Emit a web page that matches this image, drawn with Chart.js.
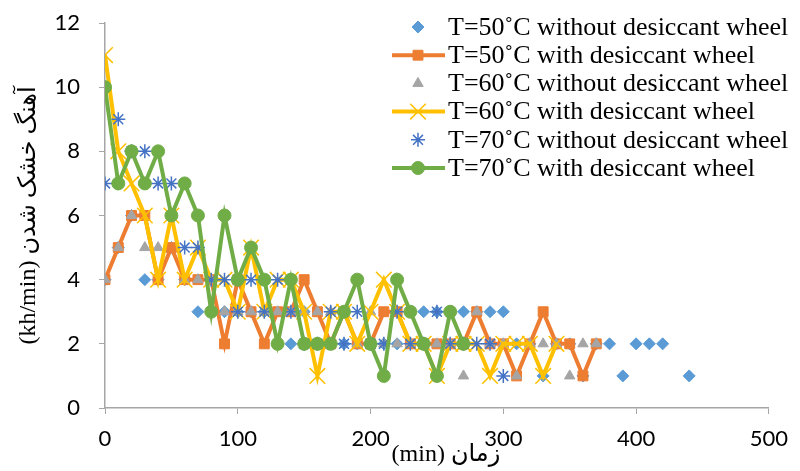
<!DOCTYPE html>
<html>
<head>
<meta charset="utf-8">
<script src="https://cdn.jsdelivr.net/npm/chart.js@4.4.1/dist/chart.umd.min.js"></script>
<style>
    html, body { margin: 0; padding: 0; background: #fff; }
    #wrap { width: 800px; height: 471px; position: relative; }
</style>
</head>
<body>
<div id="wrap"><canvas id="dryingChart"></canvas></div>
<script>
// time axis (min), one reading every 10 minutes
const times = [0, 10, 20, 30, 40, 50, 60, 70, 80, 90, 100, 110, 120, 130, 140, 150, 160, 170, 180, 190,
    200, 210, 220, 230, 240, 250, 260, 270, 280, 290, 300, 310, 320, 330, 340, 350, 360, 370, 380, 390,
    400, 410, 420, 430, 440];

// drying rate (kh/min) per series, aligned with times (null = no reading)
const t50NoWheel = [4, 5, 6, 4, 4, 5, 4, 3, 3, 3, 3, 3, 3, 2, 2, 3, 2, 2, 2, 2,
    2, 2, 2, 3, 3, 3, 3, 3, 3, 3, 3, 2, 2, 1, 2, 2, 1, 2, 2, 1,
    2, 2, 2, null, 1];
const t50Wheel = [4, 5, 6, 6, 4, 5, 4, 4, 4, 2, 4, 3, 2, 3, 3, 4, 3, 2, 3, 2,
    2, 3, 3, 2, 2, 2, 2, 2, 3, 2, 2, 1, 2, 3, 2, 2, 1, 2];
const t60NoWheel = [4, 5, 6, 5, 5, 6, 4, 4, 4, 3, 3, 3, 3, 3, 3, 3, 3, 3, 3, 2,
    3, 2, 2, 2, 2, 2, 2, 1, 3, 2, 2, 1, 2, 2, 2, 1, 2, 2];
const t60Wheel = [11, 8, 7, 6, 4, 6, 4, 5, 4, 4, 3, 5, 3, 4, 4, 3, 1, 3, 3, 2,
    3, 4, 3, 2, 2, 1, 2, 2, 2, 1, 2, 2, 2, 1, 2];
const t70NoWheel = [7, 9, 8, 8, 7, 7, 5, 5, 4, 4, 3, 4, 3, 4, 3, 2, 2, 3, 2, 3,
    2, 2, 3, 2, 2, 3, 2, 2, 2, 2, 1];
const t70Wheel = [10, 7, 8, 7, 8, 6, 7, 6, 3, 6, 4, 5, 4, 2, 4, 2, 2, 2, 3, 4,
    2, 1, 4, 3, 2, 1, 3, 2];

const seriesLabels = [
    'T=50˚C without desiccant wheel',
    'T=50˚C with desiccant wheel',
    'T=60˚C without desiccant wheel',
    'T=60˚C with desiccant wheel',
    'T=70˚C without desiccant wheel',
    'T=70˚C with desiccant wheel'
];

const xTicks = [0, 100, 200, 300, 400, 500];
const yTicks = [0, 2, 4, 6, 8, 10, 12];

const yTitle = '(kh/min) آهنگ خشک شدن';
const xTitle = '\u00A0\u00A0\u00A0(min) زمان';

function toPoints(values) {
    return values.map((v, i) => ({ x: times[i], y: v }));
}

// draws the legend inside the plot, top right, like the original
const cornerLegend = {
    id: 'cornerLegend',
    afterDraw(chart) {
        const ctx = chart.ctx;
        ctx.save();
        chart.data.datasets.forEach((ds, i) => {
            const y = 27 + i * 28.2;
            if (ds.showLine) {
                ctx.strokeStyle = ds.borderColor;
                ctx.lineWidth = ds.borderWidth;
                ctx.beginPath();
                ctx.moveTo(392, y);
                ctx.lineTo(445, y);
                ctx.stroke();
            }
            ctx.fillStyle = ds.pointBackgroundColor;
            ctx.strokeStyle = ds.pointBorderColor;
            ctx.lineWidth = ds.pointBorderWidth;
            Chart.helpers.drawPoint(ctx, {
                pointStyle: ds.pointStyle,
                radius: ds.pointRadius,
                borderWidth: ds.pointBorderWidth,
                rotation: 0
            }, 418, y);
            ctx.fillStyle = '#000';
            ctx.font = '26px "Liberation Serif", "Times New Roman", serif';
            ctx.textBaseline = 'middle';
            ctx.textAlign = 'left';
            ctx.fillText(ds.label, 448, y + 1);
        });
        ctx.restore();
    }
};

function initChart() {
    const ctx = document.getElementById('dryingChart').getContext('2d');
    const axisColor = '#A6A6A6';
    const tickFont = { family: 'Lato, "Open Sans", sans-serif', size: 22 };
    const titleFont = { family: '"Liberation Serif", "DejaVu Sans", serif', size: 24 };

    const base = { spanGaps: false, pointHoverRadius: 0 };

    new Chart(ctx, {
        type: 'line',
        data: {
            datasets: [
                { ...base, label: seriesLabels[0], data: toPoints(t50NoWheel), showLine: false, order: 6,
                  borderColor: '#5B9BD5', pointStyle: 'rectRot', pointRadius: 6,
                  pointBackgroundColor: '#5B9BD5', pointBorderColor: '#5B9BD5', pointBorderWidth: 1 },
                { ...base, label: seriesLabels[1], data: toPoints(t50Wheel), showLine: true, order: 5,
                  borderColor: '#ED7D31', borderWidth: 4, pointStyle: 'rect', pointRadius: 7,
                  pointBackgroundColor: '#ED7D31', pointBorderColor: '#ED7D31', pointBorderWidth: 1 },
                { ...base, label: seriesLabels[2], data: toPoints(t60NoWheel), showLine: false, order: 4,
                  borderColor: '#A5A5A5', pointStyle: 'triangle', pointRadius: 6,
                  pointBackgroundColor: '#A5A5A5', pointBorderColor: '#A5A5A5', pointBorderWidth: 1 },
                { ...base, label: seriesLabels[3], data: toPoints(t60Wheel), showLine: true, order: 3,
                  borderColor: '#FFC000', borderWidth: 4, pointStyle: 'crossRot', pointRadius: 11,
                  pointBackgroundColor: '#FFC000', pointBorderColor: '#FFC000', pointBorderWidth: 1.5 },
                { ...base, label: seriesLabels[4], data: toPoints(t70NoWheel), showLine: false, order: 2,
                  borderColor: '#4472C4', pointStyle: 'star', pointRadius: 7,
                  pointBackgroundColor: '#4472C4', pointBorderColor: '#4472C4', pointBorderWidth: 1.5 },
                { ...base, label: seriesLabels[5], data: toPoints(t70Wheel), showLine: true, order: 1,
                  borderColor: '#70AD47', borderWidth: 4, pointStyle: 'circle', pointRadius: 6.5,
                  pointBackgroundColor: '#70AD47', pointBorderColor: '#70AD47', pointBorderWidth: 1 }
            ]
        },
        options: {
            responsive: true,
            maintainAspectRatio: false,
            animation: false,
            layout: { padding: { top: 23, right: 25, left: 5, bottom: 0 } },
            plugins: { legend: { display: false }, tooltip: { enabled: false } },
            scales: {
                x: {
                    type: 'linear',
                    min: xTicks[0],
                    max: xTicks[xTicks.length - 1],
                    afterFit: s => { s.height = 63; },
                    afterBuildTicks: s => { s.ticks = xTicks.map(v => ({ value: v })); },
                    grid: { display: true, drawOnChartArea: false, drawTicks: true, tickLength: 6, color: axisColor },
                    border: { display: true, color: axisColor, width: 1.5 },
                    ticks: { color: '#000', font: tickFont, padding: 12, maxRotation: 0 },
                    title: { display: true, text: xTitle, color: '#000', font: titleFont, padding: { top: 0, bottom: 2 } }
                },
                y: {
                    min: yTicks[0],
                    max: yTicks[yTicks.length - 1],
                    afterFit: s => { s.width = 100; s.paddingTop = 0; s.paddingBottom = 0; },
                    afterBuildTicks: s => { s.ticks = yTicks.map(v => ({ value: v })); },
                    grid: { display: true, drawOnChartArea: false, drawTicks: true, tickLength: 6, color: axisColor },
                    border: { display: true, color: axisColor, width: 1.5 },
                    ticks: { color: '#000', font: tickFont, padding: 19 },
                    title: { display: true, text: yTitle, color: '#000', font: titleFont, padding: { top: 9, bottom: 0 } }
                }
            }
        },
        plugins: [cornerLegend]
    });
}

document.addEventListener('DOMContentLoaded', initChart);
</script>
</body>
</html>
